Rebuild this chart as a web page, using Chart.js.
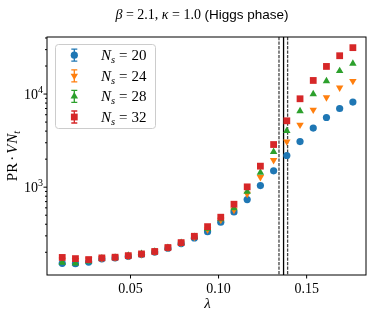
<!DOCTYPE html>
<html>
<head>
<meta charset="utf-8">
<script src="https://cdn.jsdelivr.net/npm/chart.js@4.4.0/dist/chart.umd.min.js"></script>
<style>
  html, body { margin: 0; padding: 0; background: #fff; }
</style>
</head>
<body>
<canvas id="prChart" width="374" height="317"></canvas>
<script>
// lambda values (x) and PR*V*N_t for each lattice size
const lambdas = [0.01125, 0.01875, 0.02625, 0.03375, 0.04125, 0.04875, 0.05625, 0.06375,
                 0.07125, 0.07875, 0.08625, 0.09375, 0.10125, 0.10875, 0.11625, 0.12375,
                 0.13125, 0.13875, 0.14625, 0.15375, 0.16125, 0.16875, 0.17625];
const prN20 = [152, 151, 157, 170, 174, 181, 189, 201, 221, 248, 285, 333, 420, 542, 736, 1040,
               1497, 2188, 3090, 4310, 5600, 7000, 8200];
const prN24 = [166, 165, 167, 173, 176, 183, 191, 203, 224, 252, 292, 350, 445, 570, 847, 1281,
               1950, 3090, 4674, 6780, 9190, 11700, 13800];
const prN28 = [155, 152, 160, 172, 176, 184, 192, 204, 223, 252, 293, 360, 455, 595, 897, 1436,
               2398, 4030, 6560, 10000, 13800, 17700, 21300];
const prN32 = [176, 171, 167, 174, 177, 184, 192, 204, 225, 254, 297, 377, 476, 656, 1008, 1682,
               2871, 5164, 8900, 14000, 19800, 25800, 31500];
const sizes = [20, 24, 28, 32];
const transitionLines = [0.1343, 0.1369, 0.1392];
const xTicks = [0.05, 0.10, 0.15];
const xTickLabels = ["0.05", "0.10", "0.15"];
const yTicks = [1000, 10000];
const yTickExp = ["3", "4"];

const colors = ["#1f77b4", "#ff7f0e", "#2ca02c", "#d62728"];
const series = [prN20, prN24, prN28, prN32];
const markers = [
    { style: "circle", radius: 3.6, rotation: 0 },
    { style: "triangle", radius: 4.3, rotation: 180 },
    { style: "triangle", radius: 4.3, rotation: 0 },
    { style: "rect", radius: 4.8, rotation: 0 }
];

const SERIF = '"Liberation Serif", "DejaVu Serif", serif';
const SANS = '"Liberation Sans", "DejaVu Sans", sans-serif';

function drawRich(ctx, segs, x, y, align) {
    let total = 0;
    segs.forEach(s => { ctx.font = s.f; total += ctx.measureText(s.t).width + (s.gap || 0); });
    let cx = align === "center" ? x - total / 2 : align === "right" ? x - total : x;
    segs.forEach(s => {
        ctx.font = s.f;
        ctx.fillText(s.t, cx, y + (s.dy || 0));
        cx += ctx.measureText(s.t).width + (s.gap || 0);
    });
}

function markerAt(ctx, i, x, y) {
    const m = markers[i];
    ctx.fillStyle = colors[i];
    Chart.helpers.drawPoint(ctx, { pointStyle: m.style, radius: m.radius, rotation: m.rotation, borderWidth: 0 }, x, y);
}

const decorPlugin = {
    id: "decor",
    beforeDatasetsDraw(chart) {
        const { ctx, chartArea: a, scales: { x } } = chart;
        ctx.save();
        transitionLines.forEach((v, i) => {
            const px = x.getPixelForValue(v);
            ctx.beginPath();
            ctx.lineWidth = 1.3;
            if (i === 1) { ctx.setLineDash([]); ctx.strokeStyle = "#000"; }
            else { ctx.setLineDash([3.2, 1.3]); ctx.strokeStyle = "#444"; }
            ctx.moveTo(px, a.top);
            ctx.lineTo(px, a.bottom);
            ctx.stroke();
        });
        ctx.restore();
    },
    afterDraw(chart) {
        const { ctx, chartArea: a, scales: { x, y } } = chart;
        ctx.save();
        ctx.fillStyle = "#000";
        ctx.strokeStyle = "#000";

        // frame
        ctx.lineWidth = 1;
        ctx.strokeRect(a.left, a.top, a.right - a.left, a.bottom - a.top);

        // x ticks
        ctx.textBaseline = "alphabetic";
        xTicks.forEach((v, i) => {
            const px = x.getPixelForValue(v);
            ctx.beginPath();
            ctx.moveTo(px, a.bottom);
            ctx.lineTo(px, a.bottom + 3.5);
            ctx.stroke();
            drawRich(ctx, [{ t: xTickLabels[i], f: "14px " + SERIF }], px, a.bottom + 17.5, "center");
        });

        // y ticks (log, major + minor)
        for (let e = 2; e <= 4; e++) {
            for (let k = 1; k <= 9; k++) {
                const v = k * Math.pow(10, e);
                if (v < y.min || v > y.max) continue;
                const py = y.getPixelForValue(v);
                ctx.beginPath();
                ctx.moveTo(a.left, py);
                ctx.lineTo(a.left - (k === 1 ? 3.5 : 2), py);
                ctx.stroke();
            }
        }
        yTicks.forEach((v, i) => {
            const py = y.getPixelForValue(v);
            drawRich(ctx, [
                { t: "10", f: "14px " + SERIF },
                { t: yTickExp[i], f: "10px " + SERIF, dy: -6 }
            ], a.left - 4, py + 5, "right");
        });

        // axis labels
        drawRich(ctx, [{ t: "λ", f: "italic 15px " + SERIF }], (a.left + a.right) / 2 + 1, a.bottom + 33, "center");
        ctx.save();
        ctx.translate(17, (a.top + a.bottom) / 2);
        ctx.rotate(-Math.PI / 2);
        drawRich(ctx, [
            { t: "PR", f: "15px " + SERIF, gap: 2 },
            { t: "·", f: "15px " + SERIF, gap: 2 },
            { t: "V", f: "italic 15px " + SERIF, gap: 1 },
            { t: "N", f: "italic 15px " + SERIF },
            { t: "t", f: "italic 10px " + SERIF, dy: 3 }
        ], 0, 0, "center");
        ctx.restore();

        // title
        drawRich(ctx, [
            { t: "β", f: "italic 14px " + SERIF },
            { t: " = 2.1, ", f: "14px " + SERIF },
            { t: "κ", f: "italic 14px " + SERIF },
            { t: " = 1.0 ", f: "14px " + SERIF },
            { t: "(Higgs phase)", f: "13.5px " + SANS }
        ], 202, 19, "center");

        // legend
        const lx = 55.5, ly = 44.5, lw = 100, lh = 84;
        ctx.beginPath();
        ctx.roundRect(lx, ly, lw, lh, 3);
        ctx.fillStyle = "rgba(255,255,255,0.85)";
        ctx.fill();
        ctx.strokeStyle = "#cccccc";
        ctx.stroke();
        sizes.forEach((n, i) => {
            const ry = 55.2 + 20.6 * i, mx = 74.3;
            ctx.strokeStyle = colors[i];
            ctx.lineWidth = 1.3;
            ctx.beginPath();
            ctx.moveTo(mx, ry - 6); ctx.lineTo(mx, ry + 6);
            ctx.moveTo(mx - 3, ry - 6); ctx.lineTo(mx + 3, ry - 6);
            ctx.moveTo(mx - 3, ry + 6); ctx.lineTo(mx + 3, ry + 6);
            ctx.stroke();
            markerAt(ctx, i, mx, ry);
            ctx.fillStyle = "#000";
            drawRich(ctx, [
                { t: "N", f: "italic 15px " + SERIF },
                { t: "s", f: "italic 10.5px " + SERIF, dy: 3, gap: 4 },
                { t: "=", f: "15px " + SERIF, gap: 4 },
                { t: String(n), f: "15px " + SERIF }
            ], 101, ry + 5, "left");
        });
        ctx.restore();
    }
};

const datasets = series.map((vals, i) => ({
    label: "N_s = " + sizes[i],
    data: lambdas.map((l, j) => ({ x: l, y: vals[j] })),
    showLine: false,
    pointStyle: markers[i].style,
    pointRadius: markers[i].radius,
    pointRotation: markers[i].rotation,
    pointBackgroundColor: colors[i],
    pointBorderWidth: 0,
    order: 4 - i
}));

new Chart(document.getElementById("prChart").getContext("2d"), {
    type: "scatter",
    data: { datasets: datasets },
    options: {
        responsive: false,
        animation: false,
        devicePixelRatio: 1,
        layout: { padding: { top: 37, right: 8, left: 0, bottom: 0 } },
        plugins: { legend: { display: false }, title: { display: false }, tooltip: { enabled: false } },
        scales: {
            x: {
                type: "linear",
                min: 0.0026,
                max: 0.1837,
                grid: { display: false },
                border: { display: false },
                ticks: { display: false },
                afterFit: s => { s.height = 42; }
            },
            y: {
                type: "logarithmic",
                min: 114,
                max: 41000,
                grid: { display: false },
                border: { display: false },
                ticks: { display: false },
                afterFit: s => { s.width = 47; }
            }
        }
    },
    plugins: [decorPlugin]
});
</script>
</body>
</html>
